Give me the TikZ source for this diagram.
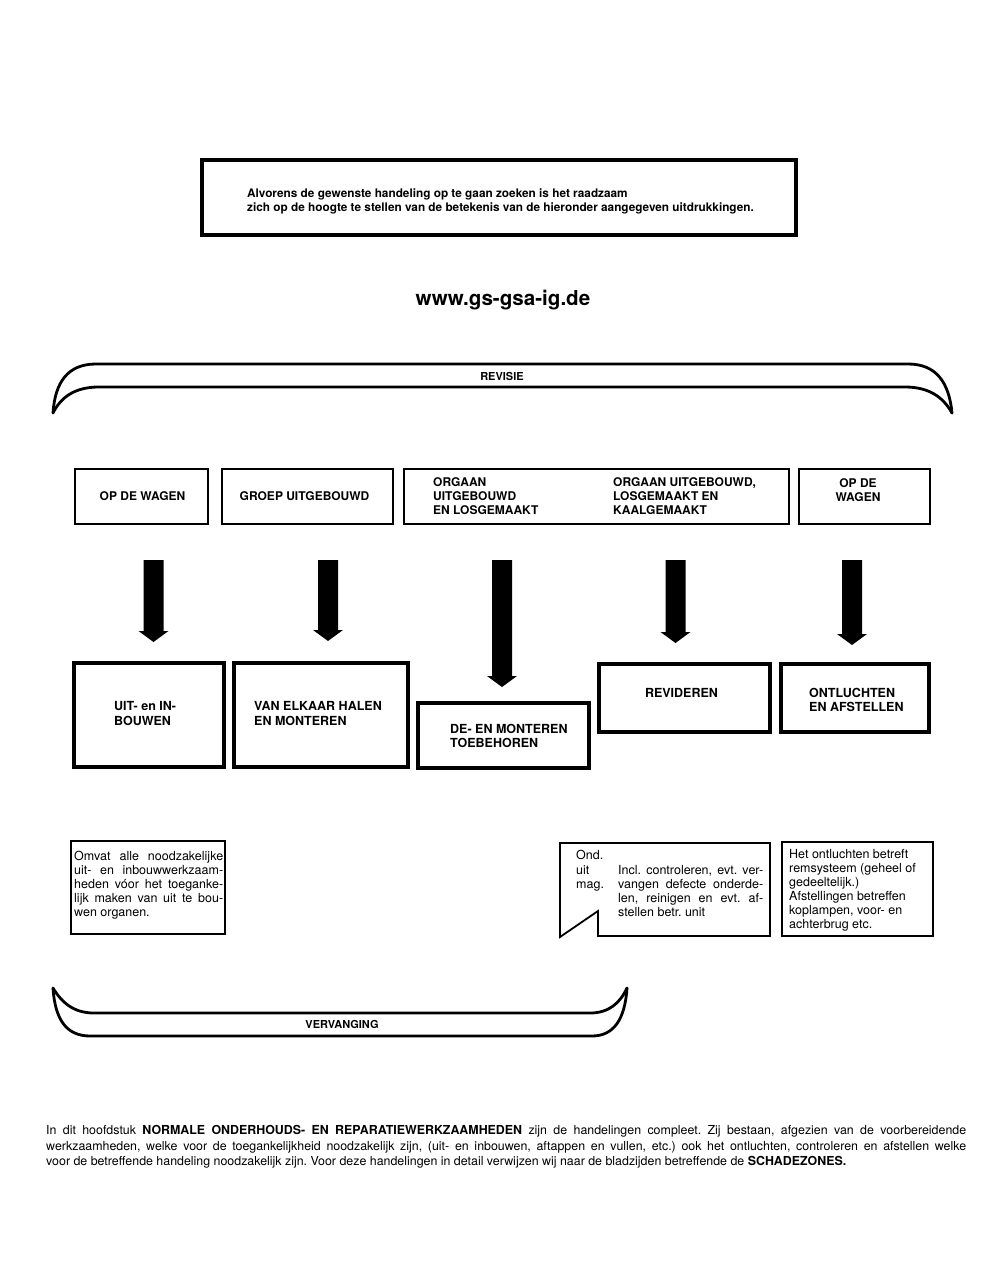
\documentclass[tikz,border=0pt]{standalone}
\usepackage{fontspec}
\setmainfont{TeX Gyre Heros}
\frenchspacing
\newcommand\fatarrow[3]{\fill (#1-10,#2) -- (#1+10,#2) -- (#1+10,#3-11) -- (#1+15,#3-11) -- (#1,#3) -- (#1-15,#3-11) -- (#1-10,#3-11) -- cycle;}
\begin{document}
\begin{tikzpicture}[x=1pt,y=-1pt,
  rowbox/.style={draw, line width=2pt, inner sep=0pt},
  actbox/.style={draw, line width=3.5pt, inner sep=0pt},
  notebox/.style={draw, line width=1.8pt, inner sep=0pt, line join=miter},
  introtxt/.style={font=\fontsize{11.8}{12}\selectfont\bfseries, inner sep=0pt, anchor=base west},
  hdtxt/.style={font=\fontsize{12}{14}\selectfont\bfseries, inner sep=0pt, anchor=base west},
  acttxt/.style={font=\fontsize{12.5}{14}\selectfont\bfseries, inner sep=0pt, anchor=base west},
  notetxt/.style={font=\fontsize{12.5}{14}\selectfont, inner sep=0pt, anchor=base west},
  partxt/.style={font=\fontsize{12.4}{14}\selectfont, inner sep=0pt, anchor=base west},
  bracelbl/.style={font=\fontsize{11}{12}\selectfont\bfseries, inner sep=0pt},
  brace/.style={line width=2.8pt, line join=round, line cap=round}
]
\useasboundingbox[fill=white] (0,0) rectangle (1000,1271);

% intro box
\node[draw, line width=3.5pt, minimum width=594pt, minimum height=75pt] (intro) at (499,197.5) {};
\node[introtxt] (introA) at (247,197.5) {Alvorens de gewenste handeling op te gaan zoeken is het raadzaam};
\node[introtxt] (introB) at (247,211.5) {zich op de hoogte te stellen van de betekenis van de hieronder aangegeven uitdrukkingen.};

\node[font=\fontsize{20.6}{24}\selectfont\bfseries, inner sep=0pt] (www) at (503,300) {www.gs-gsa-ig.de};

% REVISIE brace
\draw[brace] (53,413) .. controls (55,382) and (68,364) .. (96,364) -- (908,364) .. controls (936,364) and (949,382) .. (952,413);
\draw[brace] (53,413) .. controls (61,397) and (75,387) .. (99,387) -- (905,387) .. controls (929,387) and (943,397) .. (952,413);
\node[bracelbl] (revisie) at (502,376.5) {REVISIE};

% top row
\node[rowbox, minimum width=133pt, minimum height=55pt] (boxA) at (141.5,496.5) {};
\node[rowbox, minimum width=171pt, minimum height=55pt] (boxB) at (307.5,496.5) {};
\node[rowbox, minimum width=385pt, minimum height=55pt] (boxC) at (596.5,496.5) {};
\node[rowbox, minimum width=131pt, minimum height=55pt] (boxD) at (864.5,496.5) {};
\node[hdtxt, anchor=base] (tA) at (142.5,500.5) {OP DE WAGEN};
\node[hdtxt, anchor=base] (tB) at (304.5,500.5) {GROEP UITGEBOUWD};
\node[hdtxt] (tC1) at (433,486.5) {ORGAAN};
\node[hdtxt] (tC2) at (433,500.5) {UITGEBOUWD};
\node[hdtxt] (tC3) at (433,514.5) {EN LOSGEMAAKT};
\node[hdtxt] (tC4) at (613,486.5) {ORGAAN UITGEBOUWD,};
\node[hdtxt] (tC5) at (613,500.5) {LOSGEMAAKT EN};
\node[hdtxt] (tC6) at (613,514.5) {KAALGEMAAKT};
\node[hdtxt, anchor=base] (tD1) at (858,487.5) {OP DE};
\node[hdtxt, anchor=base] (tD2) at (858,501.5) {WAGEN};

% fat arrows
\fatarrow{153.5}{560}{642}
\fatarrow{328}{560}{641}
\fatarrow{502}{560}{687}
\fatarrow{675.5}{560}{643}
\fatarrow{852}{560}{645}

% action boxes
\node[actbox, minimum width=150pt, minimum height=104pt] (boxE) at (149,715) {};
\node[actbox, minimum width=174pt, minimum height=104pt] (boxF) at (321,715) {};
\node[actbox, minimum width=171pt, minimum height=65pt] (boxG) at (503.5,735.5) {};
\node[actbox, minimum width=171pt, minimum height=68pt] (boxH) at (684.5,698) {};
\node[actbox, minimum width=148pt, minimum height=68pt] (boxI) at (855,698) {};
\node[acttxt] (tE1) at (114,710.5) {UIT- en IN-};
\node[acttxt] (tE2) at (114,725) {BOUWEN};
\node[acttxt] (tF1) at (254,710.5) {VAN ELKAAR HALEN};
\node[acttxt] (tF2) at (254,725) {EN MONTEREN};
\node[acttxt] (tG1) at (450,733) {DE- EN MONTEREN};
\node[acttxt] (tG2) at (450,747.5) {TOEBEHOREN};
\node[acttxt, anchor=base] (tH) at (681.5,697) {REVIDEREN};
\node[acttxt] (tI1) at (809,697) {ONTLUCHTEN};
\node[acttxt] (tI2) at (809,711) {EN AFSTELLEN};

% note 1
\node[notebox, minimum width=154pt, minimum height=93pt] (note1) at (148,887.5) {};
\node[notetxt] (n1a) at (74,860) {\makebox[149pt][s]{Omvat alle noodzakelijke}};
\node[notetxt] (n1b) at (74,874) {\makebox[149pt][s]{uit- en inbouwwerkzaam-}};
\node[notetxt] (n1c) at (74,888) {\makebox[149pt][s]{heden vóor het toeganke-}};
\node[notetxt] (n1d) at (74,902) {\makebox[149pt][s]{lijk maken van uit te bou-}};
\node[notetxt] (n1e) at (74,916.5) {wen organen.};

% note 2 (flag)
\draw[notebox] (560,843) -- (560,937) -- (598,911) -- (598,936) -- (770,936) -- (770,843) -- cycle;
\node[notetxt] (n2a) at (576,859.5) {Ond.};
\node[notetxt] (n2b) at (576,874) {uit};
\node[notetxt] (n2c) at (576,888) {mag.};
\node[notetxt] (n2d) at (618,874) {\makebox[145pt][s]{Incl. controleren, evt. ver-}};
\node[notetxt] (n2e) at (618,888) {\makebox[145pt][s]{vangen defecte onderde-}};
\node[notetxt] (n2f) at (618,902) {\makebox[145pt][s]{len, reinigen en evt. af-}};
\node[notetxt] (n2g) at (618,916) {stellen betr. unit};

% note 3
\node[notebox, minimum width=151pt, minimum height=94pt] (note3) at (857.5,889) {};
\node[notetxt] (n3a) at (789,858.5) {Het ontluchten betreft};
\node[notetxt] (n3b) at (789,872.5) {remsysteem (geheel of};
\node[notetxt] (n3c) at (789,886.5) {gedeeltelijk.)};
\node[notetxt] (n3d) at (789,900.5) {Afstellingen betreffen};
\node[notetxt] (n3e) at (789,914.5) {koplampen, voor- en};
\node[notetxt] (n3f) at (789,928.5) {achterbrug etc.};

% VERVANGING brace
\draw[brace] (53,988) .. controls (62,1003) and (74,1013) .. (94,1013) -- (590,1013) .. controls (609,1013) and (620,1003) .. (627,988);
\draw[brace] (53,988) .. controls (55,1019) and (66,1036) .. (90,1036) -- (592,1036) .. controls (614,1036) and (625,1019) .. (627,988);
\node[bracelbl] (vervanging) at (342,1024.5) {VERVANGING};

% bottom paragraph
\node[partxt] (p1) at (46,1134.5) {\makebox[920pt][s]{In dit hoofdstuk \textbf{NORMALE ONDERHOUDS- EN REPARATIEWERKZAAMHEDEN} zijn de handelingen compleet. Zij bestaan, afgezien van de voorbereidende}};
\node[partxt] (p2) at (46,1150) {\makebox[920pt][s]{werkzaamheden, welke voor de toegankelijkheid noodzakelijk zijn, (uit- en inbouwen, aftappen en vullen, etc.) ook het ontluchten, controleren en afstellen welke}};
\node[partxt] (p3) at (46,1165.5) {voor de betreffende handeling noodzakelijk zijn. Voor deze handelingen in detail verwijzen wij naar de bladzijden betreffende de \textbf{SCHADEZONES.}};
\end{tikzpicture}
\end{document}
